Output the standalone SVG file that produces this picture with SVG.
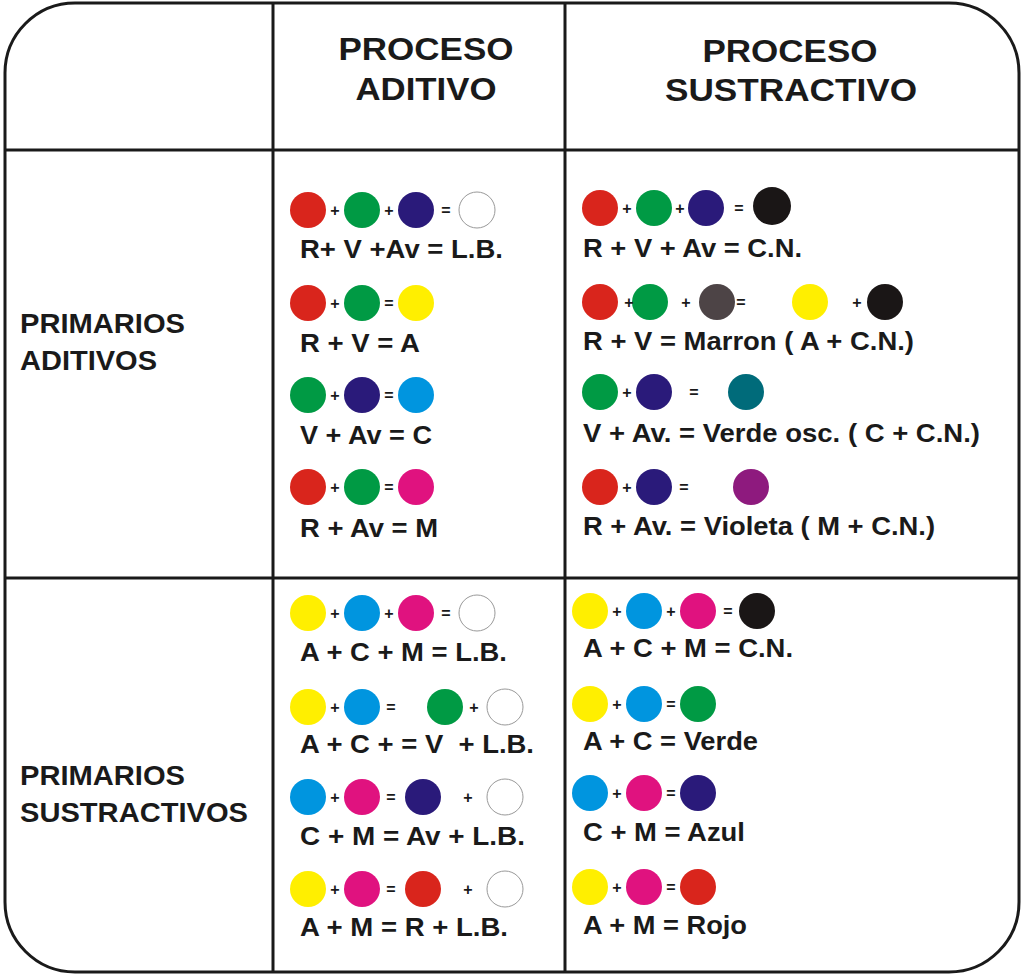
<svg xmlns="http://www.w3.org/2000/svg" width="1024" height="977" viewBox="0 0 1024 977">
<style>
text{font-family:"Liberation Sans",Arial,sans-serif;font-weight:bold;fill:#1a1a1a}
.h{font-size:32px;text-anchor:middle}
.l{font-size:28px}
.t{font-size:25px}
.o{font-size:16px;text-anchor:middle}
.ln{stroke:#1a1a1a;stroke-width:3;fill:none}
.R{fill:#d9251c}.G{fill:#009a44}.B{fill:#2a1a7a}.Y{fill:#ffef00}.C{fill:#0095df}.M{fill:#e0127f}.K{fill:#1a1616}.W{fill:#fff;stroke:#999;stroke-width:1}.D{fill:#4d4446}.T{fill:#006b7a}.P{fill:#8e1a7e}
</style>
<rect width="1024" height="977" fill="#fff"/>
<g id="frame">
<rect class="ln" x="5" y="3" width="1014" height="969" rx="70"/>
<line class="ln" x1="273" y1="3" x2="273" y2="972"/>
<line class="ln" x1="565" y1="3" x2="565" y2="972"/>
<line class="ln" x1="5" y1="150" x2="1019" y2="150"/>
<line class="ln" x1="5" y1="578" x2="1019" y2="578"/>
</g>
<g id="headers">
<text class="h" x="426" y="60" textLength="175" lengthAdjust="spacingAndGlyphs">PROCESO</text><text class="h" x="426" y="100" textLength="141" lengthAdjust="spacingAndGlyphs">ADITIVO</text>
<text class="h" x="790" y="62" textLength="175" lengthAdjust="spacingAndGlyphs">PROCESO</text><text class="h" x="791" y="101" textLength="252" lengthAdjust="spacingAndGlyphs">SUSTRACTIVO</text>
<text class="l" x="20" y="333" textLength="165" lengthAdjust="spacingAndGlyphs">PRIMARIOS</text><text class="l" x="20" y="370" textLength="137" lengthAdjust="spacingAndGlyphs">ADITIVOS</text>
<text class="l" x="20" y="785" textLength="165" lengthAdjust="spacingAndGlyphs">PRIMARIOS</text><text class="l" x="20" y="822" textLength="228" lengthAdjust="spacingAndGlyphs">SUSTRACTIVOS</text>
</g>
<g id="add-add">
<circle class="R" cx="308" cy="210" r="18"/><circle class="G" cx="362" cy="210" r="18"/><circle class="B" cx="416" cy="210" r="18"/><circle class="W" cx="477" cy="210" r="18"/>
<text class="o" x="335" y="216">+</text><text class="o" x="389" y="216">+</text><text class="o" x="446" y="216">=</text>
<text class="t" x="300" y="258" textLength="203" lengthAdjust="spacingAndGlyphs">R+ V +Av = L.B.</text>
<circle class="R" cx="308" cy="303" r="18"/><circle class="G" cx="362" cy="303" r="18"/><circle class="Y" cx="416" cy="303" r="18"/>
<text class="o" x="335" y="309">+</text><text class="o" x="389" y="309">=</text>
<text class="t" x="300" y="352" textLength="120" lengthAdjust="spacingAndGlyphs">R + V = A</text>
<circle class="G" cx="308" cy="395" r="18"/><circle class="B" cx="362" cy="395" r="18"/><circle class="C" cx="416" cy="395" r="18"/>
<text class="o" x="335" y="401">+</text><text class="o" x="389" y="401">=</text>
<text class="t" x="300" y="444" textLength="132" lengthAdjust="spacingAndGlyphs">V + Av = C</text>
<circle class="R" cx="308" cy="487" r="18"/><circle class="G" cx="362" cy="487" r="18"/><circle class="M" cx="416" cy="487" r="18"/>
<text class="o" x="335" y="493">+</text><text class="o" x="389" y="493">=</text>
<text class="t" x="300" y="537" textLength="138" lengthAdjust="spacingAndGlyphs">R + Av = M</text>
</g>
<g id="add-sub">
<circle class="R" cx="600" cy="208" r="18"/><circle class="G" cx="654" cy="208" r="18"/><circle class="B" cx="706" cy="208" r="18"/><circle class="K" cx="772" cy="206" r="19"/>
<text class="o" x="627" y="214">+</text><text class="o" x="680" y="214">+</text><text class="o" x="739" y="214">=</text>
<text class="t" x="583" y="257" textLength="219" lengthAdjust="spacingAndGlyphs">R + V + Av = C.N.</text>
<circle class="R" cx="600" cy="302" r="18"/><circle class="G" cx="650" cy="302" r="18"/><circle class="D" cx="717" cy="302" r="18"/><circle class="Y" cx="810" cy="302" r="18"/><circle class="K" cx="885" cy="302" r="18"/>
<text class="o" x="629" y="308">+</text><text class="o" x="686" y="308">+</text><text class="o" x="741" y="308">=</text><text class="o" x="857" y="308">+</text>
<text class="t" x="583" y="350" textLength="331" lengthAdjust="spacingAndGlyphs">R + V = Marron ( A + C.N.)</text>
<circle class="G" cx="600" cy="392" r="18"/><circle class="B" cx="654" cy="392" r="18"/><circle class="T" cx="746" cy="392" r="18"/>
<text class="o" x="627" y="398">+</text><text class="o" x="694" y="398">=</text>
<text class="t" x="583" y="442" textLength="397" lengthAdjust="spacingAndGlyphs">V + Av. = Verde osc. ( C + C.N.)</text>
<circle class="R" cx="600" cy="487" r="18"/><circle class="B" cx="654" cy="487" r="18"/><circle class="P" cx="751" cy="487" r="18"/>
<text class="o" x="627" y="493">+</text><text class="o" x="684" y="493">=</text>
<text class="t" x="583" y="535" textLength="352" lengthAdjust="spacingAndGlyphs">R + Av. = Violeta ( M + C.N.)</text>
</g>
<g id="sub-add">
<circle class="Y" cx="308" cy="613" r="18"/><circle class="C" cx="362" cy="613" r="18"/><circle class="M" cx="416" cy="613" r="18"/><circle class="W" cx="477" cy="613" r="18"/>
<text class="o" x="335" y="619">+</text><text class="o" x="389" y="619">+</text><text class="o" x="446" y="619">=</text>
<text class="t" x="300" y="661" textLength="207" lengthAdjust="spacingAndGlyphs">A + C + M = L.B.</text>
<circle class="Y" cx="308" cy="707" r="18"/><circle class="C" cx="362" cy="707" r="18"/><circle class="G" cx="445" cy="707" r="18"/><circle class="W" cx="505" cy="707" r="18"/>
<text class="o" x="335" y="713">+</text><text class="o" x="391" y="713">=</text><text class="o" x="474" y="713">+</text>
<text class="t" x="300" y="753" textLength="234" lengthAdjust="spacingAndGlyphs" xml:space="preserve">A + C + = V  + L.B.</text>
<circle class="C" cx="308" cy="797" r="18"/><circle class="M" cx="362" cy="797" r="18"/><circle class="B" cx="423" cy="797" r="18"/><circle class="W" cx="505" cy="797" r="18"/>
<text class="o" x="335" y="803">+</text><text class="o" x="391" y="803">=</text><text class="o" x="468" y="803">+</text>
<text class="t" x="300" y="845" textLength="225" lengthAdjust="spacingAndGlyphs">C + M = Av + L.B.</text>
<circle class="Y" cx="308" cy="889" r="18"/><circle class="M" cx="362" cy="889" r="18"/><circle class="R" cx="423" cy="889" r="18"/><circle class="W" cx="505" cy="889" r="18"/>
<text class="o" x="335" y="895">+</text><text class="o" x="391" y="895">=</text><text class="o" x="468" y="895">+</text>
<text class="t" x="300" y="936" textLength="208" lengthAdjust="spacingAndGlyphs">A + M = R + L.B.</text>
</g>
<g id="sub-sub">
<circle class="Y" cx="590" cy="611" r="18"/><circle class="C" cx="644" cy="611" r="18"/><circle class="M" cx="698" cy="611" r="18"/><circle class="K" cx="757" cy="611" r="18"/>
<text class="o" x="617" y="617">+</text><text class="o" x="671" y="617">+</text><text class="o" x="728" y="617">=</text>
<text class="t" x="583" y="657" textLength="210" lengthAdjust="spacingAndGlyphs">A + C + M = C.N.</text>
<circle class="Y" cx="590" cy="704" r="18"/><circle class="C" cx="644" cy="704" r="18"/><circle class="G" cx="698" cy="704" r="18"/>
<text class="o" x="617" y="710">+</text><text class="o" x="671" y="710">=</text>
<text class="t" x="583" y="750" textLength="175" lengthAdjust="spacingAndGlyphs">A + C = Verde</text>
<circle class="C" cx="590" cy="793" r="18"/><circle class="M" cx="644" cy="793" r="18"/><circle class="B" cx="698" cy="793" r="18"/>
<text class="o" x="617" y="799">+</text><text class="o" x="671" y="799">=</text>
<text class="t" x="583" y="841" textLength="162" lengthAdjust="spacingAndGlyphs">C + M = Azul</text>
<circle class="Y" cx="590" cy="887" r="18"/><circle class="M" cx="644" cy="887" r="18"/><circle class="R" cx="698" cy="887" r="18"/>
<text class="o" x="617" y="893">+</text><text class="o" x="671" y="893">=</text>
<text class="t" x="583" y="934" textLength="164" lengthAdjust="spacingAndGlyphs">A + M = Rojo</text>
</g>
</svg>
